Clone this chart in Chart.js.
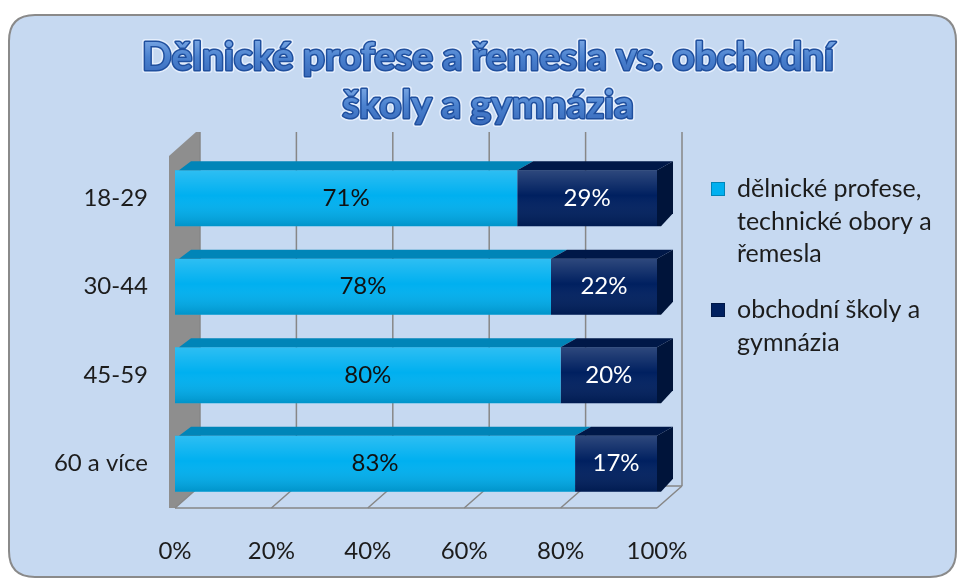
<!DOCTYPE html>
<html>
<head>
<meta charset="utf-8">
<script src="https://cdn.jsdelivr.net/npm/chart.js@4.4.1/dist/chart.umd.min.js"></script>
<style>
    html, body { margin: 0; padding: 0; background: #ffffff; }
    canvas { display: block; }
</style>
</head>
<body>
<canvas id="schoolChart" width="958" height="581"></canvas>
<script>
// data
const ageGroups     = ['18-29', '30-44', '45-59', '60 a více'];
const tradesShare   = [71, 78, 80, 83];
const academicShare = [29, 22, 20, 17];
const percentTicks  = [0, 20, 40, 60, 80, 100];
const titleLines    = ['Dělnické profese a řemesla vs. obchodní', 'školy a gymnázia'];
const seriesNames   = [
    ['dělnické profese,', 'technické obory a', 'řemesla'],
    ['obchodní školy a', 'gymnázia']
];

const FONT   = 'Lato';
const DEPTH  = {dx: 25, dy: 22};   // back wall offset
const BAR3D  = {dx: 16, dy: 9};    // bar top / side faces
const topFaceColors  = ['#0085b8', '#001848'];
const sideFaceColors = ['#0070a0', '#00143a'];

function roundRect(ctx, x, y, w, h, r) {
    ctx.beginPath();
    ctx.moveTo(x + r, y);
    ctx.lineTo(x + w - r, y);
    ctx.quadraticCurveTo(x + w, y, x + w, y + r);
    ctx.lineTo(x + w, y + h - r);
    ctx.quadraticCurveTo(x + w, y + h, x + w - r, y + h);
    ctx.lineTo(x + r, y + h);
    ctx.quadraticCurveTo(x, y + h, x, y + h - r);
    ctx.lineTo(x, y + r);
    ctx.quadraticCurveTo(x, y, x + r, y);
    ctx.closePath();
}

const cardPlugin = {
    id: 'card',
    beforeDraw(chart) {
        const ctx = chart.ctx;
        ctx.save();
        ctx.fillStyle = '#ffffff';
        ctx.fillRect(0, 0, chart.width, chart.height);
        roundRect(ctx, 9, 15, 947, 562, 26);
        ctx.fillStyle = '#c6d9f1';
        ctx.fill();
        ctx.lineWidth = 2;
        ctx.strokeStyle = '#8a8a8a';
        ctx.stroke();
        ctx.restore();
    }
};

const wallsPlugin = {
    id: 'walls',
    beforeDatasetsDraw(chart) {
        const ctx = chart.ctx;
        const a   = chart.chartArea;
        const xs  = chart.scales.x;
        const {dx, dy} = DEPTH;
        ctx.save();

        // left side wall
        ctx.beginPath();
        ctx.moveTo(a.left - 6, a.top + 2);
        ctx.lineTo(a.left + dx - 4, a.top - dy);
        ctx.lineTo(a.left + dx, a.top - dy);
        ctx.lineTo(a.left + dx, a.bottom - dy);
        ctx.lineTo(a.left, a.bottom);
        ctx.lineTo(a.left - 6, a.bottom);
        ctx.closePath();
        ctx.fillStyle = '#8e8e8e';
        ctx.fill();

        ctx.strokeStyle = '#878787';
        ctx.lineWidth = 1.5;
        percentTicks.forEach(v => {
            const x = xs.getPixelForValue(v);
            ctx.beginPath();
            ctx.moveTo(x + dx, a.top - dy);
            ctx.lineTo(x + dx, a.bottom - dy);
            ctx.moveTo(x, a.bottom);
            ctx.lineTo(x + dx, a.bottom - dy);
            ctx.stroke();
        });
        ctx.beginPath();
        ctx.moveTo(a.left + dx, a.bottom - dy);
        ctx.lineTo(a.right + dx, a.bottom - dy);
        ctx.moveTo(a.left, a.bottom);
        ctx.lineTo(a.right, a.bottom);
        ctx.stroke();
        ctx.restore();
    }
};

const bar3dPlugin = {
    id: 'bar3d',
    afterDatasetsDraw(chart) {
        const ctx = chart.ctx;
        const {dx, dy} = BAR3D;
        ctx.save();
        chart.data.datasets.forEach((ds, di) => {
            const meta = chart.getDatasetMeta(di);
            meta.data.forEach((bar, i) => {
                const p  = bar.getProps(['x', 'y', 'base', 'height'], true);
                const x0 = Math.min(p.x, p.base), x1 = Math.max(p.x, p.base);
                const top = p.y - p.height / 2, bottom = p.y + p.height / 2;

                // shading on the front face
                const g = ctx.createLinearGradient(0, top, 0, bottom);
                g.addColorStop(0, 'rgba(255,255,255,0.18)');
                g.addColorStop(0.45, 'rgba(255,255,255,0)');
                g.addColorStop(1, 'rgba(0,0,0,0.16)');
                ctx.fillStyle = g;
                ctx.fillRect(x0, top, x1 - x0, bottom - top);

                // top face
                ctx.beginPath();
                ctx.moveTo(x0 + (di === 0 ? 4 : 0), top);
                ctx.lineTo(x1, top);
                ctx.lineTo(x1 + dx, top - dy);
                ctx.lineTo(x0 + dx, top - dy);
                ctx.closePath();
                ctx.fillStyle = topFaceColors[di];
                ctx.fill();

                // right side face on the last series
                if (di === chart.data.datasets.length - 1) {
                    ctx.beginPath();
                    ctx.moveTo(x1, top);
                    ctx.lineTo(x1 + dx, top - dy);
                    ctx.lineTo(x1 + dx, bottom - dy - 4);
                    ctx.lineTo(x1 + 4, bottom);
                    ctx.lineTo(x1, bottom);
                    ctx.closePath();
                    ctx.fillStyle = sideFaceColors[di];
                    ctx.fill();
                }

                // value label
                const val = ds.data[i];
                ctx.font = '24px ' + FONT;
                ctx.fillStyle = di === 0 ? '#111111' : '#ffffff';
                ctx.textAlign = 'center';
                ctx.textBaseline = 'middle';
                ctx.fillText(val + '%', (x0 + x1) / 2, p.y);
            });
        });
        ctx.restore();
    }
};

const titlePlugin = {
    id: 'fancyTitle',
    afterDraw(chart) {
        const ctx = chart.ctx;
        ctx.save();
        ctx.font = 'bold 39px ' + FONT;
        ctx.textAlign = 'center';
        ctx.textBaseline = 'middle';
        ctx.lineJoin = 'round';
        titleLines.forEach((line, i) => {
            const y = 57 + i * 48;
            ctx.lineWidth = 6;
            ctx.strokeStyle = 'rgba(235,243,255,0.8)';
            ctx.strokeText(line, 488, y);
            ctx.lineWidth = 3;
            ctx.strokeStyle = '#1f4f9e';
            ctx.strokeText(line, 488, y);
            const g = ctx.createLinearGradient(0, y - 18, 0, y + 18);
            g.addColorStop(0, '#7aa7e4');
            g.addColorStop(0.5, '#4b82cf');
            g.addColorStop(1, '#3a6cbd');
            ctx.fillStyle = g;
            ctx.fillText(line, 488, y);
        });
        ctx.restore();
    }
};

const legendPlugin = {
    id: 'sideLegend',
    afterDraw(chart) {
        const ctx = chart.ctx;
        ctx.save();
        ctx.font = '25px ' + FONT;
        ctx.textAlign = 'left';
        ctx.textBaseline = 'middle';
        let y = 189;
        chart.data.datasets.forEach((ds, di) => {
            const lines = seriesNames[di];
            ctx.fillStyle = ds.backgroundColor;
            ctx.fillRect(711, y - 7, 14, 14);
            ctx.strokeStyle = topFaceColors[di];
            ctx.lineWidth = 1;
            ctx.strokeRect(711.5, y - 6.5, 13, 13);
            ctx.fillStyle = '#1c1c1c';
            lines.forEach((t, li) => {
                ctx.fillText(t, 737, y + li * 32.5);
            });
            y += (lines.length - 1) * 32.5 + 56;
        });
        ctx.restore();
    }
};

const tickFont = {family: FONT, size: 24};

new Chart(document.getElementById('schoolChart'), {
    type: 'bar',
    data: {
        labels: ageGroups,
        datasets: [
            {
                label: seriesNames[0].join(' '),
                data: tradesShare,
                backgroundColor: '#00b0f0',
                barPercentage: 0.63,
                categoryPercentage: 1
            },
            {
                label: seriesNames[1].join(' '),
                data: academicShare,
                backgroundColor: '#002060',
                barPercentage: 0.63,
                categoryPercentage: 1
            }
        ]
    },
    options: {
        indexAxis: 'y',
        responsive: false,
        animation: false,
        layout: {padding: {left: 20, right: 301, top: 154, bottom: 13}},
        plugins: {
            legend : {display: false},
            title  : {display: false},
            tooltip: {enabled: false}
        },
        scales: {
            x: {
                stacked: true,
                min: 0,
                max: 100,
                ticks: {
                    stepSize: 20,
                    callback: v => v + '%',
                    padding: 29,
                    font: tickFont,
                    color: '#1c1c1c',
                    maxRotation: 0
                },
                grid  : {display: false, drawTicks: false},
                border: {display: false},
                afterFit(s) { s.height = 60; }
            },
            y: {
                stacked: true,
                ticks: {
                    padding: 27,
                    font: tickFont,
                    color: '#1c1c1c'
                },
                grid  : {display: false, drawTicks: false},
                border: {display: false},
                afterFit(s) { s.width = 155; }
            }
        }
    },
    plugins: [cardPlugin, wallsPlugin, bar3dPlugin, titlePlugin, legendPlugin]
});
</script>
</body>
</html>
